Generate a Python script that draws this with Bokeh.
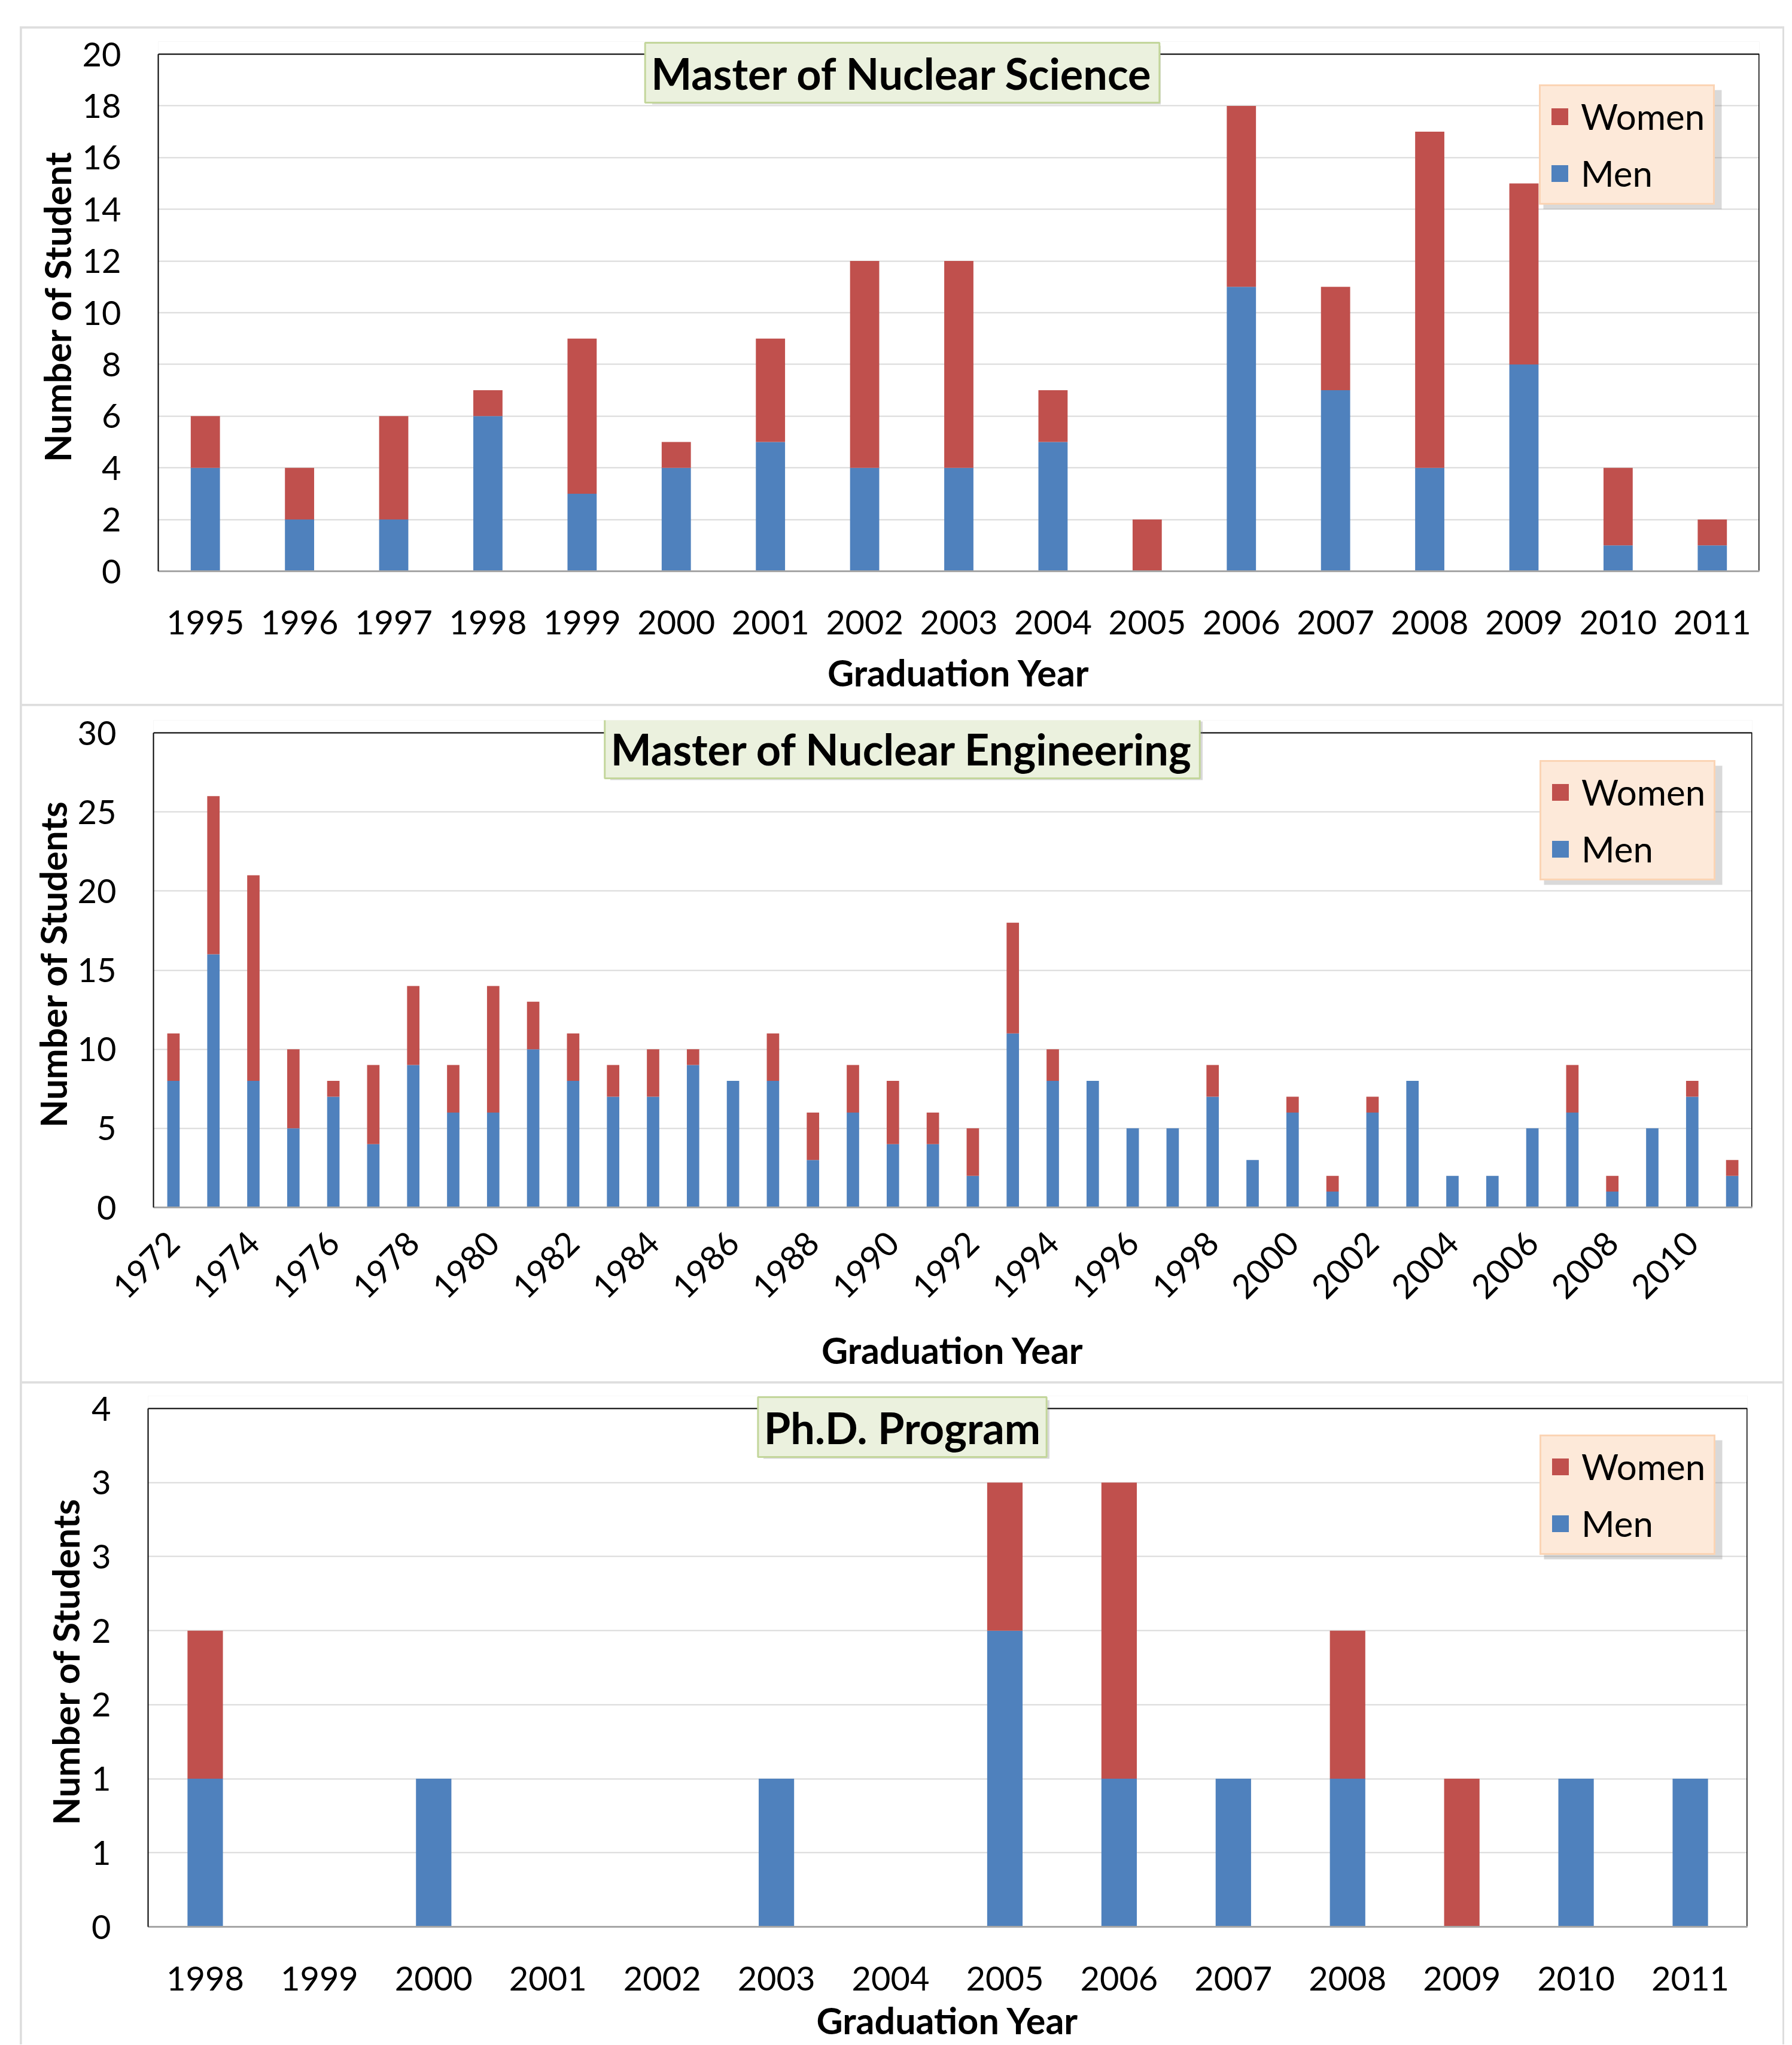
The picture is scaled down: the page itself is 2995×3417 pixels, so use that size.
import math
from bokeh.plotting import figure
from bokeh.models import (ColumnDataSource, FixedTicker, Legend, LegendItem,
                          Label, Range1d, BoxAnnotation, Span)
from bokeh.layouts import column
from bokeh.embed import file_html
from bokeh.resources import INLINE

# ---------------- data ----------------
mns_years = list(range(1995, 2012))
mns_men = [4, 2, 2, 6, 3, 4, 5, 4, 4, 5, 0, 11, 7, 4, 8, 1, 1]
mns_women = [2, 2, 4, 1, 6, 1, 4, 8, 8, 2, 2, 7, 4, 13, 7, 3, 1]
mns_yticks = [0, 2, 4, 6, 8, 10, 12, 14, 16, 18, 20]

mne_years = list(range(1972, 2012))
mne_men = [8, 16, 8, 5, 7, 4, 9, 6, 6, 10,
           8, 7, 7, 9, 8, 8, 3, 6, 4, 4,
           2, 11, 8, 8, 5, 5, 7, 3, 6, 1,
           6, 8, 2, 2, 5, 6, 1, 5, 7, 2]
mne_women = [3, 10, 13, 5, 1, 5, 5, 3, 8, 3,
             3, 2, 3, 1, 0, 3, 3, 3, 4, 2,
             3, 7, 2, 0, 0, 0, 2, 0, 1, 1,
             1, 0, 0, 0, 0, 3, 1, 0, 1, 1]
mne_yticks = [0, 5, 10, 15, 20, 25, 30]

phd_years = list(range(1998, 2012))
phd_men = [1, 0, 1, 0, 0, 1, 0, 2, 1, 1, 1, 0, 1, 1]
phd_women = [1, 0, 0, 0, 0, 0, 0, 1, 2, 0, 1, 1, 0, 0]
phd_yticks = [0, 0.5, 1, 1.5, 2, 2.5, 3, 3.5]
phd_ytick_labels = ["0", "1", "1", "2", "2", "3", "3", "4"]

series_names = ["Men", "Women"]
x_title = "Graduation Year"

# ---------------- style ----------------
BLUE = "#4f81bd"
RED = "#c0504d"
FONT = "Lato"
W = 2943
LEG_W, LEG_H = 298, 199
SH = 7      # shadow offset (px)
EXTRA = 21  # px of head-room above the visible plot box (for the title box)


def make_panel(years, men, women, yticks, x_ticks, title, y_title, height,
               borders, title_off, title_hw, legend_loc, rotate=False,
               ylabels=None, x_std=65, x_lab_std=24, y_lab_std=3):
    bl, br, bt, bb = borders
    x0, x1 = years[0] - 0.5, years[-1] + 0.5
    y0, y1 = yticks[0], yticks[-1]
    fw = W - bl - br
    fh = height - bt - bb
    y1_ext = y1 + EXTRA * (y1 - y0) / fh
    p = figure(width=W, height=height, output_backend="svg",
               toolbar_location=None,
               x_range=Range1d(x0, x1), y_range=Range1d(y0, y1_ext),
               min_border_left=bl, min_border_right=br,
               min_border_top=bt - EXTRA, min_border_bottom=bb,
               background_fill_color="white", border_fill_color="white",
               outline_line_color=None)
    if hasattr(p, "frame_align"):
        p.frame_align = False
    src = ColumnDataSource(dict(year=years, men=men, women=women))
    rs = p.vbar_stack(["men", "women"], x="year", width=0.31, source=src,
                      fill_color=[BLUE, RED], line_color=None)

    p.xgrid.grid_line_color = None
    p.ygrid.grid_line_color = "#d9d9d9"
    p.ygrid.grid_line_width = 2

    # plot-area border: top and right (left / bottom are the axis lines)
    p.add_layout(Span(location=y1, dimension="width",
                      line_color="black", line_width=2))
    p.segment(x0=[x1], y0=[y0], x1=[x1], y1=[y1],
              line_color="black", line_width=3)

    for ax in (p.xaxis[0], p.yaxis[0]):
        ax.major_tick_line_color = None
        ax.minor_tick_line_color = None
        ax.major_tick_in = 0
        ax.major_tick_out = 0
        ax.minor_tick_in = 0
        ax.minor_tick_out = 0
        ax.major_label_text_font = FONT
        ax.major_label_text_font_size = "56px"
        ax.major_label_text_color = "black"
        ax.axis_label_text_font = FONT
        ax.axis_label_text_font_style = "bold"
        ax.axis_label_text_font_size = "61px"
        ax.axis_label_text_color = "black"

    p.yaxis.ticker = FixedTicker(ticks=yticks)
    p.yaxis.bounds = (y0, y1)
    if ylabels is not None:
        p.yaxis.major_label_overrides = {t: l for t, l in zip(yticks, ylabels)}
    p.yaxis.axis_label = y_title
    p.yaxis.axis_line_color = "black"
    p.yaxis.axis_line_width = 2
    p.yaxis.major_label_standoff = 62
    p.yaxis.axis_label_standoff = y_lab_std

    p.xaxis.ticker = FixedTicker(ticks=x_ticks)
    p.xaxis.axis_label = x_title
    p.xaxis.axis_line_color = "#a6a6a6"
    p.xaxis.axis_line_width = 3
    p.xaxis.major_label_standoff = x_std
    p.xaxis.axis_label_standoff = x_lab_std
    if rotate:
        p.xaxis.major_label_orientation = math.pi / 4

    # pixel (figure coords, top-down) -> data helpers for decorative shadows
    def dx(sx):
        return x0 + (sx - bl) / fw * (x1 - x0)

    def dy(sy):
        return y0 + (height - bb - sy) / fh * (y1 - y0)

    def shadow(l, r, t, b):
        p.add_layout(BoxAnnotation(left=dx(l + SH), right=dx(r + SH),
                                   top=dy(t + SH), bottom=dy(b + SH),
                                   fill_color="#808080", fill_alpha=0.3,
                                   line_color=None))

    # title box shadow + title
    cy = bt + title_off - 3
    shadow(W / 2 - title_hw, W / 2 + title_hw, cy - 49, cy + 49)
    lab = Label(x=W / 2 - bl, y=fh - title_off, x_units="screen", y_units="screen",
                text=title, text_font=FONT, text_font_style="bold",
                text_font_size="72px", text_color="black",
                text_align="center", text_baseline="middle",
                background_fill_color="#ebf1de", border_line_color="#c3d69b",
                border_line_width=3, padding=(10, 7))
    p.add_layout(lab)

    # legend shadow + legend
    vx, vy = legend_loc
    lb = height - bb - vy
    shadow(bl + vx, bl + vx + LEG_W, lb - LEG_H, lb)
    legend = Legend(items=[LegendItem(label=series_names[1], renderers=[rs[1]]),
                           LegendItem(label=series_names[0], renderers=[rs[0]])],
                    location=legend_loc, orientation="vertical",
                    background_fill_color="#fde9d9", background_fill_alpha=1.0,
                    border_line_color="#fac090", border_line_width=3,
                    label_text_font=FONT, label_text_font_size="60px",
                    label_text_color="black",
                    glyph_width=35, glyph_height=35, label_standoff=18,
                    padding=14, spacing=23, margin=0)
    p.add_layout(legend)
    return p


p1 = make_panel(mns_years, mns_men, mns_women, mns_yticks, mns_years,
                "Master of Nuclear Science", "Number of Student", 1129,
                (228, 39, 43, 222), 31, 425, (2308, 612),
                x_std=65, x_lab_std=24, y_lab_std=3)
p2 = make_panel(mne_years, mne_men, mne_women, mne_yticks, mne_years[::2],
                "Master of Nuclear Engineering", "Number of Students", 1129,
                (220, 51, 45, 291), 26, 495, (2317, 546), rotate=True,
                x_std=50, x_lab_std=28, y_lab_std=2)
p3 = make_panel(phd_years, phd_men, phd_women, phd_yticks, phd_years,
                "Ph.D. Program", "Number of Students", 1105,
                (211, 59, 42, 197), 31, 239, (2326, 621),
                ylabels=phd_ytick_labels, x_std=66, x_lab_std=10, y_lab_std=4)

for f in (p1, p2, p3):
    f.margin = (3, 3, 0, 3)

inner = column(p1, p2, p3, spacing=0, margin=(44, 0, 0, 33),
               styles={"background-color": "#dedede"})
page = column(inner)

open("out.html", "w").write(file_html(page, INLINE))
